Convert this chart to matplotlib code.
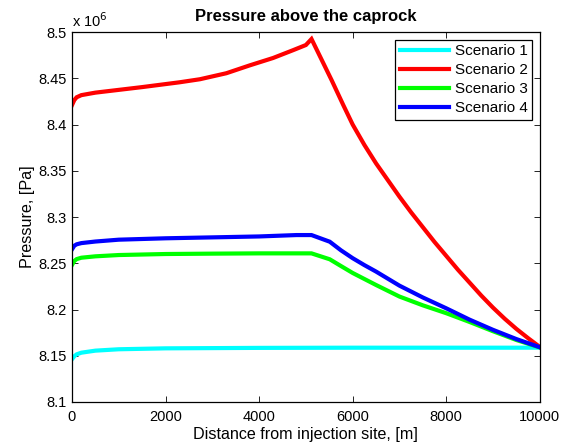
import matplotlib
matplotlib.use("Agg")
import matplotlib.pyplot as plt
from matplotlib.ticker import FuncFormatter

plt.rcParams["font.family"] = ["Liberation Sans", "DejaVu Sans"]

# distance from injection site [m] and pressure [Pa]
x_s1 = [0, 50, 100, 200, 500, 1000, 2000, 4000, 6000, 8000, 10000]
p_s1 = [8.1462e6, 8.1495e6, 8.1515e6, 8.1533e6, 8.1555e6, 8.1570e6, 8.1580e6,
        8.1585e6, 8.1587e6, 8.1587e6, 8.1587e6]

x_s2 = [0, 50, 100, 200, 500, 1000, 1500, 2300, 2735, 3300, 3800, 4300, 4730,
        5000, 5120, 5550, 5800, 6000, 6250, 6500, 6750, 7000, 7250, 7500,
        7750, 8000, 8250, 8500, 8750, 9000, 9250, 9500, 9750, 10000]
p_s2 = [8.421e6, 8.4265e6, 8.4295e6, 8.4318e6, 8.4345e6, 8.4375e6, 8.4405e6,
        8.4457e6, 8.449e6, 8.4555e6, 8.464e6, 8.472e6, 8.4805e6, 8.486e6,
        8.4925e6, 8.448e6, 8.421e6, 8.400e6, 8.378e6, 8.358e6, 8.340e6,
        8.322e6, 8.305e6, 8.289e6, 8.273e6, 8.258e6, 8.243e6, 8.229e6,
        8.215e6, 8.202e6, 8.190e6, 8.179e6, 8.169e6, 8.1595e6]

x_s3 = [0, 50, 100, 200, 500, 1000, 2000, 3000, 4000, 5120, 5510, 5750, 6000,
        6250, 6500, 7000, 7500, 8000, 8500, 9000, 9500, 10000]
p_s3 = [8.2481e6, 8.2525e6, 8.2545e6, 8.2560e6, 8.2575e6, 8.2589e6, 8.2600e6,
        8.2604e6, 8.2607e6, 8.2607e6, 8.2543e6, 8.2470e6, 8.2395e6, 8.2330e6,
        8.2265e6, 8.2140e6, 8.2045e6, 8.1960e6, 8.1865e6, 8.1765e6, 8.1670e6,
        8.1590e6]

x_s4 = [0, 50, 100, 200, 500, 1000, 2000, 3000, 4000, 4800, 5120, 5510, 5750,
        6000, 6250, 6500, 7000, 7500, 8000, 8500, 9000, 9500, 10000]
p_s4 = [8.2650e6, 8.2690e6, 8.2705e6, 8.2718e6, 8.2735e6, 8.2755e6, 8.2770e6,
        8.2780e6, 8.2790e6, 8.2805e6, 8.2805e6, 8.2733e6, 8.2640e6, 8.2555e6,
        8.2480e6, 8.2410e6, 8.2258e6, 8.2130e6, 8.2013e6, 8.1890e6, 8.1780e6,
        8.1680e6, 8.1592e6]

labels = ["Scenario 1", "Scenario 2", "Scenario 3", "Scenario 4"]
colors = ["#00ffff", "#ff0000", "#00ff00", "#0000ff"]

fig = plt.figure(figsize=(5.65, 4.43), dpi=100)
ax = fig.add_axes([0.1274, 0.0926, 0.828, 0.835])

for xs, ps, lab, c in zip([x_s1, x_s2, x_s3, x_s4], [p_s1, p_s2, p_s3, p_s4],
                          labels, colors):
    ax.plot(xs, ps, color=c, lw=3, label=lab, solid_joinstyle="miter")

ax.set_xlim(0, 10000)
ax.set_ylim(8.1e6, 8.5e6)
ax.set_xticks(range(0, 10001, 2000))
ax.set_yticks([8.1e6 + 0.05e6 * i for i in range(9)])
ax.yaxis.set_major_formatter(FuncFormatter(lambda v, pos: f"{v / 1e6:g}"))
ax.tick_params(direction="in", top=True, right=True, labelsize=10.5,
               length=4, width=0.6)
ax.tick_params(axis="x", pad=6)
for s in ax.spines.values():
    s.set_linewidth(0.9)

ax.text(0.0, 1.005, "x 10$^{6}$", transform=ax.transAxes, fontsize=10.5,
        ha="left", va="bottom")
ax.set_title("Pressure above the caprock", fontsize=12, fontweight="bold",
             pad=8)
ax.set_xlabel("Distance from injection site, [m]", fontsize=11.6, labelpad=2)
ax.set_ylabel("Pressure, [Pa]", fontsize=11.6, labelpad=3)

leg = ax.legend(loc="upper right", fontsize=11, fancybox=False,
                framealpha=1, edgecolor="black", borderaxespad=0.5,
                handlelength=3.2, labelspacing=0.32, borderpad=0.3,
                handletextpad=0.4)
leg.get_frame().set_linewidth(0.9)

fig.savefig("out.png", dpi=100)
